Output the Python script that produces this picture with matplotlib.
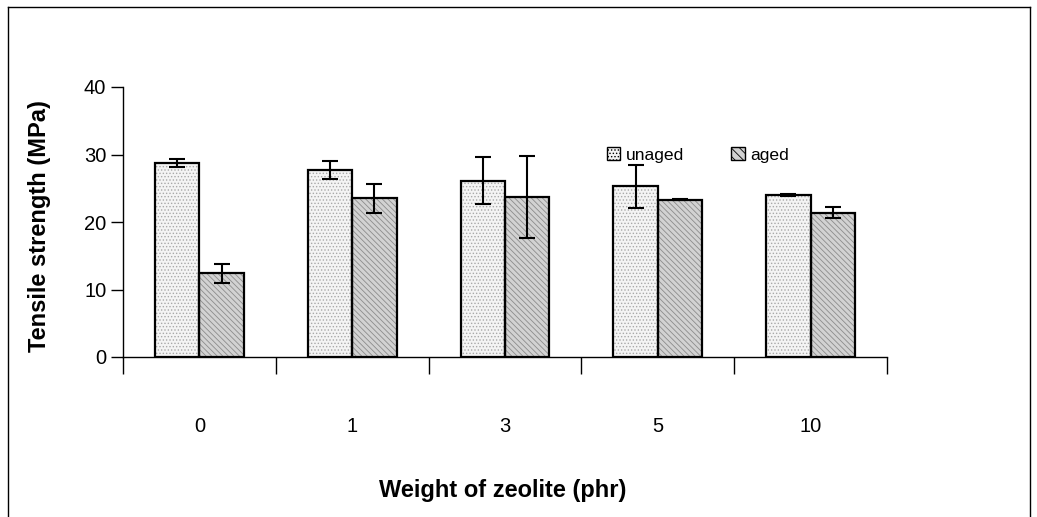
import matplotlib
matplotlib.use('agg')
import matplotlib.pyplot as plt
from matplotlib.lines import Line2D
from matplotlib.patches import Patch
import numpy as np

plt.rcParams['font.family'] = ['Liberation Sans', 'DejaVu Sans']
plt.rcParams['hatch.linewidth'] = 0.6

# Tensile strength vs zeolite loading
zeolite = ['0', '1', '3', '5', '10']
unaged = [28.7, 27.7, 26.1, 25.3, 24.0]
unaged_err = [0.6, 1.4, 3.5, 3.2, 0.2]
aged = [12.4, 23.5, 23.7, 23.3, 21.4]
aged_err = [1.4, 2.2, 6.1, 0.05, 0.8]

W, H = 1037, 517
fig = plt.figure(figsize=(W / 100, H / 100), dpi=100)
ax = fig.add_axes([123 / W, 1 - 357 / H, (887 - 123) / W, (357 - 87) / H])

x = np.arange(len(zeolite))
bw = 0.29

# textured fills first, then black outlines on top
ax.bar(x - bw / 2, unaged, bw, color='#f4f4f4', hatch='.....',
       edgecolor='#a8a8a8', linewidth=0, zorder=2)
ax.bar(x + bw / 2, aged, bw, color='#d2d2d2', hatch='\\\\\\\\\\\\',
       edgecolor='#8c8c8c', linewidth=0, zorder=2)
ax.bar(x - bw / 2, unaged, bw, fill=False, edgecolor='black', linewidth=1.6, zorder=3)
ax.bar(x + bw / 2, aged, bw, fill=False, edgecolor='black', linewidth=1.6, zorder=3)

ax.errorbar(x - bw / 2, unaged, yerr=unaged_err, fmt='none', ecolor='black',
            elinewidth=1.5, capsize=6, capthick=1.5, zorder=4)
ax.errorbar(x + bw / 2, aged, yerr=aged_err, fmt='none', ecolor='black',
            elinewidth=1.5, capsize=6, capthick=1.5, zorder=4)

ax.set_xlim(-0.5, len(zeolite) - 0.5)
ax.set_ylim(0, 40)
ax.set_yticks([0, 10, 20, 30, 40])
ax.tick_params(axis='y', direction='out', length=9, width=1, labelsize=14.5, pad=3)

# category labels sit well below the axis, tick marks at the group boundaries
ax.set_xticks(x)
ax.set_xticklabels(zeolite)
ax.tick_params(axis='x', which='major', length=0, labelsize=14.5, pad=43)
ax.set_xticks(np.arange(len(zeolite) + 1) - 0.5, minor=True)
ax.tick_params(axis='x', which='minor', direction='out', length=12, width=1)

for side in ['top', 'right']:
    ax.spines[side].set_visible(False)
for side in ['left', 'bottom']:
    ax.spines[side].set_linewidth(1)

fig.text(40 / W, 1 - 226 / H, 'Tensile strength (MPa)', fontsize=17,
         fontweight='bold', rotation=90, ha='center', va='center')
fig.text(503 / W, 1 - 490 / H, 'Weight of zeolite (phr)', fontsize=17,
         fontweight='bold', ha='center', va='center')

handles = [Patch(facecolor='#f4f4f4', hatch='.....', edgecolor='black', linewidth=1),
           Patch(facecolor='#d2d2d2', hatch='\\\\\\\\', edgecolor='black', linewidth=1)]
fig.legend(handles, ['unaged', 'aged'], ncol=2, frameon=False, fontsize=12.6,
           loc='center left', bbox_to_anchor=(591 / W, 1 - 155 / H),
           handlelength=0.78, handleheight=0.78, handletextpad=0.3, columnspacing=2.7)

# outer frame around the chart area
frame_kw = dict(color='black', linewidth=1, transform=fig.transFigure)
fig.add_artist(Line2D([8 / W, 8 / W], [0, 1 - 7 / H], **frame_kw))
fig.add_artist(Line2D([8 / W, 1030 / W], [1 - 7 / H, 1 - 7 / H], **frame_kw))
fig.add_artist(Line2D([1030 / W, 1030 / W], [0, 1 - 7 / H], **frame_kw))

fig.savefig('out.png', dpi=100)
